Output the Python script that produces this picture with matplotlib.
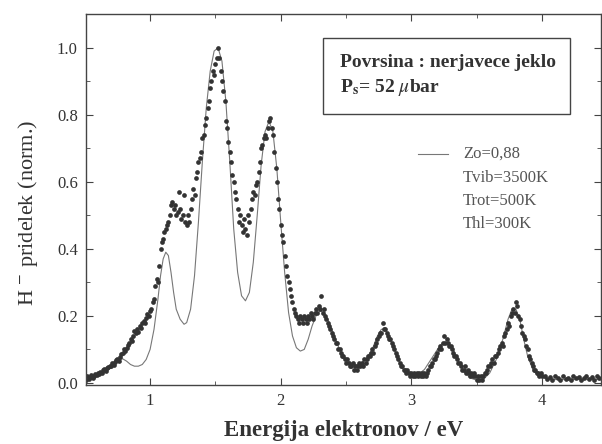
# H- yield vs electron energy, measured points + model curve (stainless steel surface)
import numpy as np
import matplotlib
matplotlib.use('Agg')
import matplotlib.pyplot as plt
from matplotlib.ticker import MultipleLocator, FormatStrFormatter
from matplotlib.patches import Rectangle

x_a = [0.51, 0.52, 0.53, 0.54, 0.55, 0.56, 0.57, 0.58, 0.59, 0.60,
       0.61, 0.62, 0.63, 0.64, 0.65, 0.66, 0.67, 0.68, 0.69, 0.70,
       0.71, 0.72, 0.73, 0.74, 0.75, 0.76, 0.77, 0.78, 0.79, 0.80,
       0.81, 0.82, 0.83, 0.84, 0.85, 0.86, 0.87, 0.88, 0.89, 0.90,
       0.91, 0.92, 0.93, 0.94, 0.95, 0.96, 0.97, 0.98, 0.99, 1.00]
y_a = [.010, .020, .012, .018, .025, .015, .022, .028, .025, .030,
       .026, .034, .030, .038, .042, .036, .045, .048, .052, .050,
       .058, .055, .062, .068, .072, .066, .078, .085, .090, .100,
       .096, .105, .112, .118, .130, .124, .140, .155, .150, .160,
       .152, .170, .165, .178, .186, .180, .195, .205, .200, .215]

x_b = [1.01, 1.02, 1.03, 1.04, 1.05, 1.06, 1.07, 1.08, 1.09, 1.10,
       1.11, 1.12, 1.13, 1.14, 1.15, 1.16, 1.17, 1.18, 1.19, 1.20,
       1.21, 1.22, 1.23, 1.24, 1.25, 1.26, 1.27, 1.28, 1.29, 1.30,
       1.31, 1.32, 1.33, 1.34, 1.35, 1.36, 1.37, 1.38, 1.39, 1.40,
       1.41, 1.42, 1.43, 1.44, 1.45, 1.46, 1.47, 1.48, 1.49, 1.50,
       1.51, 1.52]
y_b = [.22, .24, .25, .29, .31, .30, .35, .40, .42, .43,
       .45, .46, .47, .48, .50, .53, .54, .52, .53, .50,
       .51, .57, .52, .49, .50, .56, .48, .47, .50, .48,
       .52, .55, .58, .56, .61, .63, .66, .67, .69, .73,
       .74, .77, .79, .82, .84, .88, .90, .93, .92, .95,
       .97, 1.00]

x_c = [1.53, 1.54, 1.55, 1.56, 1.57, 1.58, 1.59, 1.60, 1.61, 1.62,
       1.63, 1.64, 1.65, 1.66, 1.67, 1.68, 1.69, 1.70, 1.71, 1.72,
       1.73, 1.74, 1.75, 1.76, 1.77, 1.78, 1.79, 1.80, 1.81, 1.82,
       1.83, 1.84, 1.85, 1.86, 1.87, 1.88, 1.89, 1.90, 1.91, 1.92,
       1.93, 1.94, 1.95, 1.96, 1.97, 1.98, 1.99, 2.00, 2.01, 2.02,
       2.03, 2.04, 2.05, 2.06, 2.07, 2.08, 2.09, 2.10, 2.11, 2.12]
y_c = [.97, .93, .90, .87, .84, .78, .76, .72, .69, .66,
       .62, .60, .57, .55, .52, .48, .50, .47, .45, .49,
       .46, .44, .50, .48, .52, .55, .57, .56, .59, .60,
       .63, .66, .70, .71, .73, .74, .73, .76, .78, .79,
       .76, .74, .69, .64, .60, .55, .52, .47, .44, .42,
       .38, .35, .32, .30, .28, .26, .24, .22, .21, .20]

x_d = [2.13, 2.14, 2.15, 2.16, 2.17, 2.18, 2.19, 2.20, 2.21, 2.22,
       2.23, 2.24, 2.25, 2.26, 2.27, 2.28, 2.29, 2.30, 2.31, 2.32,
       2.33, 2.34, 2.35, 2.36, 2.37, 2.38, 2.39, 2.40, 2.41, 2.42,
       2.43, 2.44, 2.45, 2.46, 2.47, 2.48, 2.49, 2.50, 2.51, 2.52,
       2.53, 2.54, 2.55, 2.56, 2.57, 2.58, 2.59, 2.60, 2.61, 2.62,
       2.63, 2.64, 2.65, 2.66, 2.67, 2.68, 2.69, 2.70, 2.71, 2.72,
       2.73, 2.74, 2.75, 2.76, 2.77, 2.78, 2.79, 2.80, 2.81, 2.82,
       2.83, 2.84, 2.85, 2.86, 2.87, 2.88, 2.89, 2.90, 2.91, 2.92,
       2.93, 2.94, 2.95, 2.96, 2.97, 2.98, 2.99, 3.00, 3.01, 3.02,
       3.03, 3.04, 3.05, 3.06, 3.07, 3.08, 3.09, 3.10, 3.11, 3.12,
       3.13, 3.14, 3.15, 3.16, 3.17, 3.18, 3.19, 3.20, 3.21, 3.22,
       3.23, 3.24, 3.25, 3.26, 3.27, 3.28, 3.29, 3.30, 3.31, 3.32,
       3.33, 3.34, 3.35, 3.36, 3.37, 3.38, 3.39, 3.40, 3.41, 3.42,
       3.43, 3.44, 3.45, 3.46, 3.47, 3.48, 3.49, 3.50, 3.51, 3.52,
       3.53, 3.54, 3.55, 3.56, 3.57, 3.58, 3.59, 3.60, 3.61, 3.62,
       3.63, 3.64, 3.65, 3.66, 3.67, 3.68, 3.69, 3.70, 3.71, 3.72,
       3.73, 3.74, 3.75, 3.76, 3.77, 3.78, 3.79, 3.80, 3.81, 3.82,
       3.83, 3.84, 3.85, 3.86, 3.87, 3.88, 3.89, 3.90, 3.91, 3.92,
       3.93, 3.94, 3.95, 3.96, 3.97, 3.98, 3.99, 4.00]
y_d = [.19, .18, .20, .19, .18, .20, .19, .18, .20, .19,
       .21, .20, .19, .21, .22, .21, .23, .22, .26, .21,
       .22, .20, .19, .18, .17, .16, .15, .14, .13, .12,
       .12, .10, .10, .09, .08, .08, .07, .06, .07, .06,
       .05, .05, .06, .04, .05, .04, .05, .06, .05, .06,
       .05, .07, .06, .07, .08, .08, .09, .10, .09, .11,
       .12, .13, .14, .15, .15, .18, .16, .16, .15, .14,
       .13, .13, .12, .11, .10, .09, .08, .07, .06, .05,
       .05, .04, .04, .03, .04, .03, .02, .03, .02, .03,
       .02, .03, .02, .03, .02, .03, .02, .03, .02, .03,
       .04, .05, .05, .06, .07, .07, .08, .09, .10, .11,
       .10, .12, .14, .12, .13, .12, .11, .11, .10, .09,
       .08, .08, .07, .06, .06, .05, .04, .04, .05, .03,
       .04, .03, .02, .03, .02, .03, .02, .01, .02, .01,
       .02, .01, .02, .03, .03, .04, .05, .05, .06, .07,
       .06, .08, .08, .09, .10, .11, .12, .11, .14, .15,
       .16, .18, .17, .20, .21, .22, .21, .24, .23, .20,
       .19, .17, .15, .14, .13, .11, .10, .08, .07, .06,
       .05, .04, .04, .03, .03, .02, .03, .02]

x_e = [4.02, 4.04, 4.06, 4.08, 4.10, 4.12, 4.14, 4.16, 4.18, 4.20, 4.22,
       4.24, 4.26, 4.28, 4.30, 4.32, 4.34, 4.36, 4.38, 4.40, 4.42, 4.44]
y_e = [.020, .012, .018, .010, .022, .015, .008, .020, .012, .016, .010,
       .022, .014, .018, .008, .015, .020, .012, .017, .010, .020, .014]

# model curve (Zo=0,88, Tvib=3500K, Trot=500K, Thl=300K)
model_x = [0.51, 0.55, 0.60, 0.65, 0.70, 0.74, 0.77, 0.79, 0.82, 0.85,
           0.88, 0.91, 0.94, 0.97, 1.00, 1.03, 1.06, 1.08, 1.10, 1.12,
           1.14, 1.16, 1.18, 1.20, 1.23, 1.26, 1.28, 1.31, 1.34, 1.37,
           1.40, 1.43, 1.46, 1.49, 1.52, 1.55, 1.58, 1.61, 1.64, 1.67,
           1.70, 1.73, 1.76, 1.79, 1.82, 1.85, 1.88, 1.91, 1.94, 1.97,
           2.00, 2.03, 2.06, 2.09, 2.12, 2.15, 2.18, 2.21, 2.24, 2.27,
           2.30, 2.33, 2.36, 2.40, 2.45, 2.50, 2.55, 2.60, 2.65, 2.70,
           2.74, 2.77, 2.80, 2.84, 2.88, 2.92, 2.96, 3.00, 3.05, 3.10,
           3.15, 3.20, 3.24, 3.28, 3.32, 3.36, 3.40, 3.45, 3.50, 3.55,
           3.60, 3.65, 3.70, 3.74, 3.77, 3.80, 3.83, 3.86, 3.89, 3.93,
           3.97, 4.05, 4.20, 4.45]
model_y = [.005, .010, .020, .030, .045, .060, .070, .072, .065, .055,
           .050, .050, .055, .070, .100, .160, .250, .320, .370, .390,
           .380, .330, .270, .220, .190, .175, .180, .220, .320, .480,
           .660, .820, .930, .990, 1.00, .960, .840, .660, .460, .330,
           .260, .245, .270, .360, .500, .650, .750, .780, .750, .640,
           .480, .330, .210, .140, .105, .095, .100, .130, .170, .200,
           .215, .210, .190, .150, .100, .070, .055, .055, .070, .100,
           .140, .160, .160, .130, .090, .050, .030, .020, .025, .040,
           .070, .100, .120, .120, .100, .065, .035, .015, .008, .010,
           .030, .070, .130, .190, .220, .220, .190, .130, .080, .040,
           .020, .010, .010, .010]

energy = x_a + x_b + x_c + x_d + x_e
signal = y_a + y_b + y_c + y_d + y_e

plt.rcParams['font.family'] = 'Liberation Serif'
plt.rcParams['mathtext.fontset'] = 'stix'

fig = plt.figure(figsize=(6.02, 4.44), dpi=100)
ax = fig.add_axes([0.143, 0.133, 0.855, 0.835])

ax.plot(model_x, model_y, color='#777777', lw=0.8)
ax.plot(energy, signal, 'o', ms=3.4, color='#333333', mec='none')

ax.set_xlim(0.51, 4.45)
ax.set_ylim(-0.006, 1.1)
ax.xaxis.set_major_locator(MultipleLocator(1))
ax.xaxis.set_minor_locator(MultipleLocator(0.5))
ax.yaxis.set_major_locator(MultipleLocator(0.2))
ax.yaxis.set_minor_locator(MultipleLocator(0.1))
ax.yaxis.set_major_formatter(FormatStrFormatter('%.1f'))
ax.tick_params(which='both', direction='in', top=True, right=True,
               colors='#444444', labelcolor='#333333', labelsize=12)
ax.tick_params(which='major', length=5, pad=6)
ax.tick_params(which='minor', length=3)
for s in ax.spines.values():
    s.set_color('#444444')
    s.set_linewidth(1.0)

ax.set_xlabel('Energija elektronov / eV', fontsize=16.5, fontweight='bold',
              color='#333333', labelpad=8)
ax.set_ylabel('H $^{-}$ pridelek (norm.)', fontsize=16, color='#333333')
ax.yaxis.set_label_coords(-0.09, 0.465)

# info box
ax.add_patch(Rectangle((0.46, 0.73), 0.48, 0.205, transform=ax.transAxes,
                       fill=False, ec='#444444', lw=1.0))
ax.text(0.493, 0.871, 'Povrsina : nerjavece jeklo', transform=ax.transAxes,
        fontsize=14, fontweight='bold', color='#333333', va='center')
ax.text(0.493, 0.803, r'P$_{\mathbf{s}}$= 52 $\mu$bar', transform=ax.transAxes,
        fontsize=14, fontweight='bold', color='#333333', va='center')

# model legend
ax.plot([0.645, 0.703], [0.623, 0.623], transform=ax.transAxes, color='#777777', lw=0.8)
labels = ['Zo=0,88', 'Tvib=3500K', 'Trot=500K', 'Thl=300K']
ypos = [0.623, 0.558, 0.496, 0.434]
for lab, yy in zip(labels, ypos):
    ax.text(0.732, yy, lab, transform=ax.transAxes, fontsize=12,
            color='#555555', va='center')

fig.savefig('out.png', dpi=100)
